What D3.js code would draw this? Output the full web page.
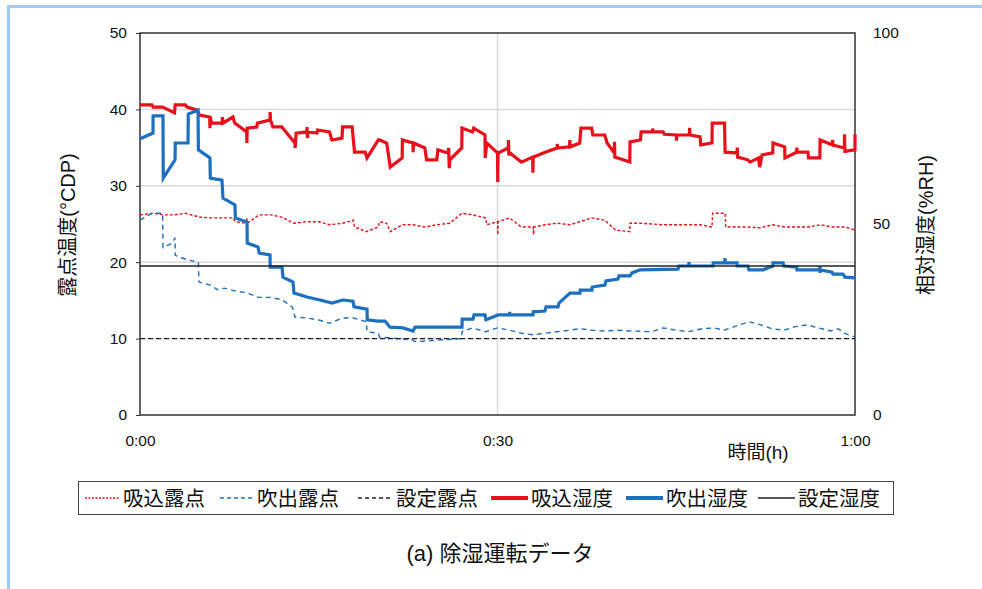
<!DOCTYPE html>
<html>
<head>
<meta charset="utf-8">
<script src="https://cdn.jsdelivr.net/npm/d3@7"></script>
<style>
  html, body { margin: 0; padding: 0; background: #ffffff; }
  svg { display: block; }
  text { font-family: "Liberation Sans", "Noto Sans CJK JP", sans-serif; fill: #111; }
</style>
</head>
<body>
<div id="chart"></div>
<script>
// Time axis: minutes since start of run (0:00 – 1:00)
const timeTicks = [0, 30, 60];
const timeTickLabels = ["0:00", "0:30", "1:00"];
const dewTicks = [0, 10, 20, 30, 40, 50];
const rhTicks = [0, 50, 100];

// Set points
const setDewPoint = 10;   // °CDP
const setRH = 39;         // %RH

// 吸込露点 (inlet dew point, °CDP) — [minute, value]
const inletDew = [
  [0,26.2],[1.1,26.4],[1.9,26.2],[2.9,26.2],[3.8,26.4],[5.0,25.9],[5.9,25.8],[7.8,25.8],
  [8.0,25.3],[8.9,25.1],[8.95,25.8],[9.0,25.1],[10.0,26.2],[11.0,26.2],[11.9,25.9],[12.9,25.1],
  [14.0,25.3],[15.0,25.3],[15.9,24.9],[17.0,25.1],[17.9,25.5],[18.0,24.6],[19.0,24.0],[20.0,24.6],
  [20.1,25.3],[20.7,25.1],[21.0,24.0],[22.0,24.9],[22.9,24.9],[23.9,24.6],[24.9,24.9],[26.0,25.1],
  [27.0,26.4],[27.9,26.2],[29.0,25.8],[29.1,24.9],[30.0,25.3],[30.02,23.6],[30.05,25.3],[31.0,25.8],
  [32.0,24.6],[33.0,24.6],[33.02,23.6],[33.05,24.6],[34.0,24.9],[35.0,25.1],[36.1,24.9],[36.9,25.3],
  [37.9,25.8],[39.0,25.5],[39.9,24.2],[41.1,24.0],[41.12,25.1],[42.0,25.1],[43.9,24.9],[47.0,24.9],
  [48.0,24.6],[48.05,26.4],[49.1,26.4],[49.15,24.6],[51.0,24.6],[52.0,24.5],[53.1,24.9],[54.1,24.6],
  [55.1,24.6],[56.1,24.6],[57.1,24.9],[58.1,24.6],[59.2,24.6],[60.0,24.2]
];

// 吹出露点 (outlet dew point, °CDP)
const outletDew = [
  [0,25.5],[1.0,26.4],[1.9,26.4],[1.93,21.9],[2.7,22.5],[2.94,23.2],[2.96,20.9],[4.0,20.3],
  [4.9,20.0],[4.95,17.4],[5.9,17.0],[6.5,16.4],[7.1,16.6],[8.1,16.2],[9.0,16.0],[9.9,15.4],
  [10.9,15.4],[11.9,15.1],[12.8,14.1],[13.0,12.8],[14.0,12.7],[15.1,12.4],[15.9,12.0],[17.0,12.7],
  [17.9,12.7],[19.0,12.2],[19.05,10.9],[20.0,10.7],[20.1,10.2],[21.0,10.1],[22.9,9.8],[23.1,9.6],
  [25.0,9.8],[27.0,10.0],[27.02,10.9],[27.9,11.4],[29.0,10.9],[30.0,11.4],[31.0,11.1],[32.0,10.7],
  [33.0,10.5],[34.0,10.7],[35.0,10.9],[36.1,11.1],[36.9,11.3],[37.9,11.1],[39.0,11.0],[40.1,11.1],
  [41.2,11.0],[42.9,10.9],[43.9,11.4],[45.0,11.1],[46.0,10.9],[47.2,11.3],[48.2,11.4],[49.0,11.1],
  [50.3,11.8],[51.1,12.2],[52.1,11.8],[53.0,11.3],[54.0,11.1],[55.1,11.6],[56.0,11.8],[56.9,11.4],
  [58.0,11.0],[58.6,11.3],[59.1,10.7],[60.0,10.2]
];

// 吸込湿度 (inlet relative humidity, %RH)
const inletRH = [
  [0,81.2],[1.0,81.2],[1.1,80.6],[1.9,80.6],[2.9,79.1],[2.95,81.2],[3.8,81.2],[3.95,80.6],
  [4.8,79.8],[5.0,78.5],[5.85,78.0],[5.87,75.1],[5.9,78.0],[6.0,76.4],[6.9,76.4],[6.92,78.0],
  [6.95,76.4],[7.8,78.0],[7.95,76.4],[8.95,74.1],[8.97,71.2],[9.0,75.1],[9.8,75.4],[9.85,76.4],
  [10.9,77.2],[10.92,79.3],[10.95,77.2],[11.15,75.4],[11.9,75.4],[13.0,71.2],[13.02,69.9],[13.1,73.8],
  [14.0,74.1],[14.02,75.4],[14.05,72.5],[14.1,74.1],[14.85,73.8],[14.9,74.6],[15.9,74.1],[16.1,72.0],
  [16.95,72.5],[17.0,75.4],[17.8,75.4],[18.0,68.8],[18.9,68.8],[19.05,67.3],[20.0,72.0],[20.1,72.0],
  [20.7,71.2],[21.0,64.9],[22.0,67.3],[22.02,72.0],[22.9,71.2],[22.92,68.8],[22.95,71.2],[23.9,69.9],
  [24.05,66.8],[24.9,66.8],[25.0,69.4],[25.85,68.6],[25.9,69.9],[25.95,64.6],[26.0,66.8],[27.0,69.9],
  [27.02,75.1],[27.9,74.1],[28.0,75.1],[28.95,73.3],[28.97,67.3],[29.1,71.2],[30.0,68.6],[30.02,61.0],
  [30.05,68.6],[30.9,69.9],[30.92,72.0],[30.95,68.0],[31.05,68.6],[32.0,66.2],[32.95,67.5],[32.97,63.4],
  [33.0,67.5],[34.0,68.8],[35.0,69.9],[35.02,71.0],[35.05,69.9],[36.05,70.2],[36.07,72.0],[36.1,70.2],
  [36.9,71.2],[37.0,75.1],[37.9,75.1],[38.0,73.3],[39.0,73.3],[39.2,71.2],[39.8,68.6],[39.82,71.5],
  [39.85,67.5],[40.1,67.3],[41.1,66.2],[41.12,71.5],[42.0,72.0],[42.05,74.1],[43.0,74.1],[43.02,75.0],
  [43.05,74.1],[43.9,74.1],[44.0,73.5],[45.0,73.3],[45.02,71.8],[45.05,73.3],[46.1,73.3],[46.12,75.2],
  [46.15,73.3],[47.0,72.8],[47.05,70.7],[48.0,71.2],[48.02,76.4],[49.05,76.4],[49.1,68.8],[50.1,68.6],
  [50.12,70.0],[50.15,67.5],[51.0,66.8],[51.2,66.2],[51.9,67.3],[52.0,64.9],[52.2,68.1],[53.1,68.6],
  [53.12,71.2],[54.1,70.2],[54.12,67.3],[55.1,68.8],[55.12,70.0],[55.15,68.8],[56.05,68.8],[56.1,67.3],
  [57.05,67.3],[57.07,72.0],[58.1,70.7],[58.12,72.0],[58.15,70.7],[59.1,69.9],[59.12,73.5],[59.15,69.0],
  [60.0,69.4],[60.0,73.5]
];

// 吹出湿度 (outlet relative humidity, %RH)
const outletRH = [
  [0,72.3],[1.09,73.8],[1.1,78.3],[1.93,78.3],[1.95,62.0],[2.94,66.8],[2.96,71.2],[4.03,71.2],
  [4.05,78.8],[4.87,79.8],[4.9,69.4],[5.87,67.3],[5.9,62.0],[6.88,61.5],[6.96,56.8],[7.97,55.0],
  [8.0,51.6],[8.98,50.5],[9.0,45.0],[9.9,44.0],[10.0,42.4],[10.91,41.9],[10.93,38.7],[11.92,38.7],
  [12.0,36.1],[12.84,34.8],[12.92,31.9],[14.01,30.9],[15.1,30.1],[16.11,29.3],[17.03,30.1],[17.87,29.8],
  [17.96,28.3],[19.05,27.7],[19.07,24.9],[19.97,24.6],[20.56,24.6],[20.98,23.0],[22.07,22.8],[22.91,22.0],
  [23.08,23.0],[27.02,23.0],[27.04,25.1],[27.94,25.1],[28.03,26.2],[28.95,26.2],[29.03,24.9],[30.04,26.2],
  [31.0,26.2],[31.02,27.0],[31.05,26.2],[32.98,26.2],[33.0,27.0],[33.98,27.2],[34.07,28.3],[35.08,28.3],
  [35.16,29.3],[36.08,31.9],[36.92,31.9],[36.94,32.7],[37.93,32.7],[37.95,33.5],[39.02,34.0],[39.1,35.1],
  [40.11,35.6],[40.19,36.4],[41.12,36.4],[41.29,37.2],[41.96,38.0],[45.15,38.2],[45.23,39.0],[46.05,39.0],
  [46.07,40.0],[46.09,39.0],[48.08,39.0],[48.1,39.8],[49.07,39.8],[49.09,41.1],[49.11,39.8],[50.1,39.8],
  [50.12,39.0],[51.02,39.0],[51.1,38.0],[52.28,38.0],[53.1,39.0],[53.12,39.8],[53.96,39.8],[54.04,39.0],
  [55.1,38.7],[55.13,38.0],[57.04,38.0],[57.06,39.0],[57.08,37.2],[57.1,38.0],[58.07,37.4],[58.15,36.9],
  [58.99,36.9],[59.16,36.1],[60.0,35.9]
];

const W = 982, H = 589;
const svg = d3.select("#chart").append("svg").attr("width", W).attr("height", H);
svg.append("rect").attr("width", W).attr("height", H).attr("fill", "#fff");

// page frame (top and left edge)
svg.append("line").attr("x1", 7).attr("x2", W).attr("y1", 6.5).attr("y2", 6.5)
  .attr("stroke", "#9fcaf5").attr("stroke-width", 3);
svg.append("line").attr("x1", 8.5).attr("x2", 8.5).attr("y1", 5).attr("y2", H)
  .attr("stroke", "#9fcaf5").attr("stroke-width", 3);

const x = d3.scaleLinear().domain([0, 60]).range([140, 855]);
const yL = d3.scaleLinear().domain([0, 50]).range([415, 33]);
const yR = d3.scaleLinear().domain([0, 100]).range([415, 33]);

// gridlines
const grid = svg.append("g");
grid.selectAll("line.h").data(dewTicks.filter(d => d > 0 && d < 50)).join("line")
  .attr("x1", x(0)).attr("x2", x(60)).attr("y1", d => yL(d)).attr("y2", d => yL(d))
  .attr("stroke", "#d9d9d9").attr("stroke-width", 1.5);
grid.selectAll("line.v").data(timeTicks.filter(d => d > 0 && d < 60)).join("line")
  .attr("x1", d => x(d)).attr("x2", d => x(d)).attr("y1", yL(0)).attr("y2", yL(50))
  .attr("stroke", "#d9d9d9").attr("stroke-width", 1.5);

// axes
const axL = svg.append("g").attr("transform", `translate(${x(0)},0)`)
  .call(d3.axisLeft(yL).tickValues(dewTicks).tickSize(4).tickPadding(9).tickSizeOuter(0));
const axR = svg.append("g").attr("transform", `translate(${x(60)},0)`)
  .call(d3.axisRight(yR).tickValues(rhTicks).tickSize(0).tickPadding(18).tickSizeOuter(0));
const axB = svg.append("g").attr("transform", `translate(0,${yL(0)})`)
  .call(d3.axisBottom(x).tickValues(timeTicks).tickFormat((d, i) => timeTickLabels[i])
    .tickSize(0).tickPadding(20).tickSizeOuter(0));
[axL, axR, axB].forEach(g => {
  g.select(".domain").remove();
  g.selectAll("text").style("font-size", "15.5px").attr("fill", "#111");
  g.selectAll(".tick line").attr("stroke", "#333");
});

// plot frame
svg.append("rect").attr("x", x(0)).attr("y", yL(50))
  .attr("width", x(60) - x(0)).attr("height", yL(0) - yL(50))
  .attr("fill", "none").attr("stroke", "#333").attr("stroke-width", 1.5);

const lineL = d3.line().x(d => x(d[0])).y(d => yL(d[1]));
const lineR = d3.line().x(d => x(d[0])).y(d => yR(d[1]));

const RED = "#e8101a", BLUE = "#1d6fbf", BLACK = "#222";

const series = [
  { name: "吸込露点", data: inletDew, line: lineL, color: RED, width: 1.4, dash: "3,2", key: "2,1.5" },
  { name: "吹出露点", data: outletDew, line: lineL, color: BLUE, width: 1.4, dash: "5,4", key: "4,3" },
  { name: "設定露点", data: [[0, setDewPoint], [60, setDewPoint]], line: lineL, color: BLACK, width: 1.4, dash: "5,3", key: "4,3" },
  { name: "吸込湿度", data: inletRH, line: lineR, color: RED, width: 3.2, dash: null, key: null },
  { name: "吹出湿度", data: outletRH, line: lineR, color: BLUE, width: 3.2, dash: null, key: null },
  { name: "設定湿度", data: [[0, setRH], [60, setRH]], line: lineR, color: BLACK, width: 1.5, dash: null, key: null }
];

const plot = svg.append("g");
series.forEach(s => {
  plot.append("path").datum(s.data).attr("d", s.line)
    .attr("fill", "none").attr("stroke", s.color).attr("stroke-width", s.width)
    .attr("stroke-dasharray", s.dash).attr("stroke-linejoin", "miter");
});

// axis titles
svg.append("text").attr("transform", `translate(75,225) rotate(-90)`)
  .attr("text-anchor", "middle").style("font-size", "20px").text("露点温度(°CDP)");
svg.append("text").attr("transform", `translate(933,225) rotate(-90)`)
  .attr("text-anchor", "middle").style("font-size", "20px").text("相対湿度(%RH)");
svg.append("text").attr("x", 758).attr("y", 459)
  .attr("text-anchor", "middle").style("font-size", "19px").text("時間(h)");

// legend
const legend = svg.append("g");
legend.append("rect").attr("x", 78.5).attr("y", 481.5).attr("width", 815).attr("height", 33)
  .attr("fill", "#fff").attr("stroke", "#444").attr("stroke-width", 1);
const keyX = [85, 220, 358, 491, 626, 758];
const keyLen = [35, 34, 35, 37, 37, 37];
const item = legend.selectAll("g.item").data(series).join("g")
  .attr("transform", (d, i) => `translate(${keyX[i]},498)`);
item.append("line").attr("x1", 0).attr("x2", (d, i) => keyLen[i]).attr("y1", 0).attr("y2", 0)
  .attr("stroke", d => d.color).attr("stroke-width", d => d.width > 2 ? 4 : (d.name === "設定湿度" ? 1.5 : 1.4))
  .attr("stroke-dasharray", d => d.key);
item.append("text").attr("x", (d, i) => keyLen[i] + 3).attr("y", 7.5)
  .style("font-size", "20.5px").text(d => d.name);

// caption
svg.append("text").attr("x", 500).attr("y", 561).attr("text-anchor", "middle")
  .style("font-size", "22px").text("(a) 除湿運転データ");
</script>
</body>
</html>
